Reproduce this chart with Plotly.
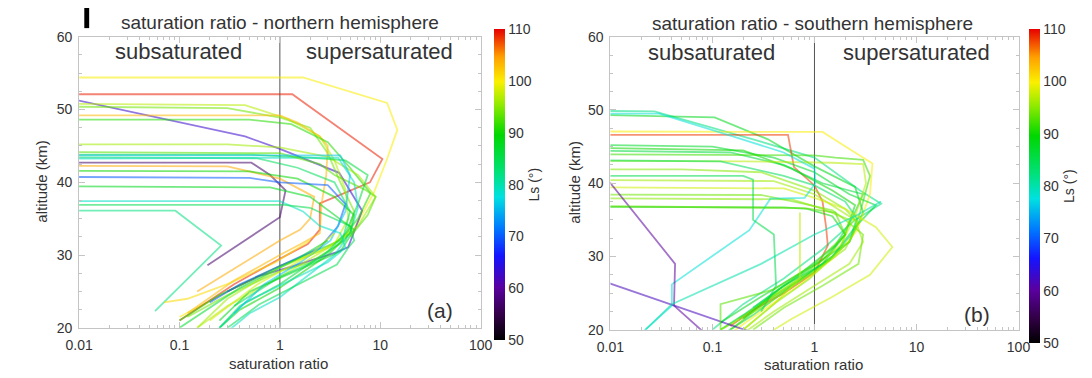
import plotly.graph_objects as go
from plotly.colors import sample_colorscale

# ---------------- data ----------------
X_TICKS = [0.01, 0.1, 1, 10, 100]
X_TICK_LABELS = ["0.01", "0.1", "1", "10", "100"]
Y_TICKS = [20, 30, 40, 50, 60]
CB_TICKS = [50, 60, 70, 80, 90, 100, 110]

# northern hemisphere profiles: Ls (deg), saturation ratio, altitude (km)
north_ls = [100, 109, 63, 97, 94, 103, 91, 96, 86, 84, 79, 57, 104, 90, 70, 88, 79, 85, 82, 93, 76, 98, 87, 101]
north_sat = [
    [0.001, 1.7, 11.7, 14.8, 11.7, 8.6, 5.3, 2.5, 1.0, 0.3, 0.1],
    [0.001, 1.33, 10.5, 7.9, 2.5, 2.5, 1.9, 1.0, 0.35, 0.1],
    [0.004, 0.45, 1.0, 3.9, 6.6, 4.8, 3.7, 1.3, 0.62, 0.3],
    [0.001, 0.45, 1.2, 2.5, 3.5, 4.5, 4.8, 3.5, 1.0, 0.3, 0.15],
    [0.001, 0.3, 1.0, 2.0, 3.0, 4.0, 5.5, 4.5, 2.0, 1.0, 0.3, 0.12],
    [0.001, 1.0, 1.5, 2.5, 3.0, 2.9, 2.6, 2.5, 1.6, 1.0, 0.35, 0.12],
    [0.001, 0.5, 1.3, 3.0, 5.0, 8.0, 6.0, 4.0, 1.0, 0.25, 0.1],
    [0.001, 0.3, 1.0, 3.0, 6.0, 9.0, 6.0, 3.0, 1.0, 0.3, 0.15],
    [0.001, 0.5, 2.0, 4.5, 7.5, 6.0, 4.5, 3.0, 1.0, 0.4, 0.25],
    [0.001, 0.6, 1.5, 3.5, 5.0, 4.2, 2.5, 1.0, 0.35],
    [0.001, 3.8, 5.5, 6.0, 5.0, 3.5, 1.0, 0.5, 0.3],
    [0.001, 0.52, 0.8, 1.14, 1.0, 0.19],
    [0.001, 0.3, 1.0, 2.2, 2.0, 1.6, 1.0, 0.3, 0.15],
    [0.001, 0.5, 1.5, 3.5, 5.5, 5.0, 3.0, 1.0, 0.4, 0.25],
    [0.001, 0.5, 1.0, 3.0, 4.5, 3.8, 2.5, 1.0, 0.4, 0.2],
    [0.001, 0.8, 2.0, 4.0, 5.5, 4.0, 1.3, 0.5, 0.25],
    [0.001, 1.0, 1.7, 2.5, 4.0, 4.5, 3.0, 1.5, 0.45, 0.25],
    [0.001, 1.1, 2.0, 3.5, 5.0, 5.5, 4.8, 3.7, 0.62, 0.3],
    [0.001, 0.091, 0.26, 0.057],
    [0.001, 1.0, 2.5, 3.5, 7.0, 9.0, 7.5, 5.0],
    [0.001, 4.0, 5.0, 4.5, 3.2, 1.6, 0.7, 0.35],
    [3.5, 2.0, 0.6, 0.2],
    [3.0, 1.5, 0.4, 0.1],
    [2.0, 0.9, 0.3, 0.12, 0.07],
]
north_alt = [
    [54.4, 54.4, 50.9, 47.2, 43.2, 38.5, 33.2, 30.5, 28.5, 25.0, 21.5],
    [52.1, 52.1, 43.2, 40.0, 37.1, 33.5, 31.5, 29.5, 26.0, 21.0],
    [52.4, 46.3, 44.6, 41.3, 36.1, 31.1, 30.4, 28.4, 27.1, 25.0],
    [50.9, 50.6, 48.7, 46.3, 43.0, 39.0, 35.0, 31.5, 27.0, 23.0, 20.0],
    [50.5, 50.2, 48.9, 47.5, 44.0, 40.0, 36.0, 32.0, 29.0, 27.8, 24.5, 21.5],
    [49.2, 49.2, 48.2, 46.3, 45.0, 41.0, 37.0, 33.0, 31.5, 30.0, 26.5, 22.0],
    [48.6, 48.6, 48.0, 45.5, 42.0, 38.5, 35.0, 32.0, 28.5, 24.5, 21.0],
    [45.2, 45.2, 44.8, 43.5, 41.0, 38.0, 34.0, 31.0, 28.3, 24.0, 20.0],
    [43.8, 43.8, 43.4, 43.0, 41.0, 37.0, 33.0, 30.5, 26.0, 23.0, 20.0],
    [43.5, 43.3, 42.0, 40.0, 36.0, 32.0, 29.5, 27.0, 23.0],
    [43.2, 43.4, 40.0, 36.5, 33.0, 30.0, 24.2, 22.0, 19.5],
    [42.7, 42.7, 41.0, 38.9, 35.2, 28.6],
    [42.3, 42.2, 40.5, 38.0, 35.0, 33.5, 32.0, 27.5, 25.0],
    [41.6, 41.5, 40.5, 38.0, 35.5, 33.0, 30.0, 25.5, 22.5, 20.0],
    [40.8, 40.6, 40.0, 39.6, 37.0, 34.0, 31.0, 28.5, 26.0, 23.5],
    [39.5, 39.3, 38.0, 35.0, 33.5, 30.5, 27.5, 25.0, 21.0],
    [37.4, 37.4, 36.0, 34.0, 33.0, 31.0, 29.0, 27.0, 23.5, 20.0],
    [36.9, 36.9, 36.5, 35.0, 34.0, 32.0, 31.0, 28.7, 23.2, 20.0],
    [36.1, 36.1, 31.3, 22.3],
    [44.2, 44.0, 42.5, 41.0, 39.0, 38.0, 35.5, 32.5],
    [43.7, 43.7, 41.0, 36.0, 32.0, 29.0, 26.0, 22.0],
    [33.0, 30.0, 26.0, 21.0],
    [32.0, 29.5, 25.5, 20.0],
    [32.0, 29.0, 26.0, 24.0, 23.5],
]

# southern hemisphere profiles
south_ls = [82, 88, 108, 100, 87, 90, 86, 92, 97, 84, 95, 96, 98, 94, 95, 90, 78, 60, 62, 85, 93, 80, 97]
south_sat = [
    [0.001, 0.027, 0.25, 1.0, 2.8, 4.5, 2.5, 1.2, 0.5, 0.2, 0.1],
    [0.001, 0.105, 0.35, 1.0, 2.5, 3.0, 2.2, 0.9, 0.3, 0.12],
    [0.001, 0.55, 0.63, 1.0, 1.2, 1.3, 1.35, 1.0, 0.5, 0.25, 0.15],
    [0.001, 1.2, 2.3, 3.7, 3.5, 2.6, 1.6, 0.7, 0.3, 0.15],
    [0.001, 0.1, 0.4, 1.0, 2.2, 4.0, 2.5, 1.5, 0.6, 0.25, 0.13],
    [0.001, 0.2, 0.6, 1.5, 2.5, 2.0, 1.2, 0.5, 0.18],
    [0.001, 0.15, 0.5, 1.2, 3.0, 2.3, 1.6, 0.7, 0.25],
    [0.001, 0.3, 1.0, 1.6, 3.0, 3.5, 2.8, 2.2, 1.0, 0.35, 0.15],
    [0.001, 0.2, 1.5, 3.0, 3.2, 2.5, 1.8, 0.8, 0.3, 0.12],
    [0.001, 0.12, 0.5, 1.0, 2.0, 2.6, 2.3, 1.4, 0.5, 0.2, 0.12],
    [0.001, 0.05, 0.3, 1.0, 2.0, 2.7, 2.0, 0.9, 0.3, 0.12],
    [0.001, 0.4, 1.0, 1.6, 2.5, 3.0, 2.2, 1.0, 0.4, 0.2],
    [0.001, 0.5, 1.0, 2.0, 4.0, 5.8, 3.5, 1.5, 0.6, 0.35],
    [0.001, 0.3, 0.8, 1.5, 2.0, 3.0, 2.7, 1.2, 0.5, 0.25],
    [0.001, 0.6, 1.2, 2.2, 1.8, 0.9, 0.4, 0.2],
    [0.001, 0.5, 0.85, 1.5, 2.0, 1.2, 0.45, 0.2],
    [0.001, 0.03, 0.15, 0.5, 1.0, 1.02, 0.8, 0.37, 0.23, 0.04, 0.04, 0.02],
    [0.007, 0.01, 0.043, 0.042, 0.08],
    [0.006, 0.01, 0.25],
    [0.001, 0.2, 0.25, 0.25, 0.4, 0.42, 0.3],
    [0.001, 0.8, 1.6, 2.0, 1.0, 0.4, 0.12, 0.12],
    [0.022, 0.04, 0.3, 1.0, 2.5, 4.5],
    [0.72, 0.72, 0.4, 0.2],
]
south_alt = [
    [50.0, 49.8, 46.0, 43.5, 39.0, 37.2, 35.0, 31.0, 27.0, 23.5, 20.0],
    [49.6, 49.0, 46.0, 42.3, 39.5, 36.0, 32.0, 28.5, 24.5, 21.0],
    [46.6, 46.6, 42.2, 39.7, 37.5, 34.0, 31.5, 27.8, 25.0, 22.7, 20.5],
    [47.1, 47.0, 44.5, 42.7, 38.5, 33.5, 30.0, 26.0, 22.5, 19.5],
    [45.4, 45.0, 43.5, 41.5, 38.5, 37.0, 34.0, 30.0, 26.0, 22.0, 19.5],
    [45.0, 44.5, 42.0, 39.0, 37.0, 33.0, 29.0, 25.5, 21.5],
    [44.6, 44.2, 42.5, 40.0, 38.5, 35.0, 31.5, 27.5, 23.0],
    [44.0, 43.8, 43.8, 43.5, 43.2, 41.0, 36.0, 32.0, 28.0, 24.0, 20.0],
    [43.1, 43.0, 42.8, 42.6, 40.0, 35.5, 31.5, 27.5, 23.5, 20.0],
    [43.2, 43.0, 41.0, 39.7, 37.5, 35.2, 33.0, 29.5, 26.0, 22.0, 20.0],
    [41.9, 41.9, 41.5, 39.0, 36.5, 34.5, 31.0, 27.5, 23.0, 20.0],
    [40.5, 40.3, 38.5, 36.7, 35.0, 32.0, 29.0, 26.0, 22.5, 19.5],
    [39.5, 39.3, 38.0, 36.5, 34.0, 31.3, 27.5, 24.5, 21.5, 19.5],
    [38.5, 38.4, 37.2, 36.3, 35.0, 33.0, 29.0, 26.0, 23.0, 20.0],
    [38.0, 37.8, 36.5, 35.0, 31.0, 27.0, 23.5, 20.0],
    [36.8, 36.7, 36.5, 35.5, 33.0, 29.5, 25.5, 21.5],
    [49.5, 49.5, 46.5, 44.2, 42.0, 40.0, 38.0, 37.9, 33.6, 26.2, 23.3, 19.5],
    [41.5, 40.0, 29.0, 23.3, 19.8],
    [27.35, 26.3, 19.6],
    [41.0, 41.0, 40.5, 35.0, 33.0, 26.0, 22.5],
    [37.0, 36.6, 36.0, 33.0, 29.0, 25.5, 23.5, 20.0],
    [20.0, 23.5, 29.0, 33.0, 35.5, 37.5],
    [36.0, 27.0, 23.5, 20.0],
]

LS_MIN, LS_MAX = 50, 110

# ---------------- styling ----------------
W, H = 1092, 378
FONT = "Liberation Sans, Arial, Helvetica, sans-serif"
TXT = "#333333"
FRAME = "#c4c4c4"

CSCALE = [
    [0.00, "rgb(0,0,0)"],
    [0.08, "rgb(50,0,70)"],
    [0.17, "rgb(90,0,160)"],
    [0.27, "rgb(20,20,255)"],
    [0.36, "rgb(0,120,255)"],
    [0.46, "rgb(0,225,225)"],
    [0.54, "rgb(0,225,120)"],
    [0.66, "rgb(0,215,0)"],
    [0.76, "rgb(150,235,0)"],
    [0.83, "rgb(250,240,0)"],
    [0.91, "rgb(255,160,0)"],
    [1.00, "rgb(230,0,0)"],
]

PANELS = [
    dict(x0=66.7, x1=478.0, yt=30.0, yb=334.0, cbx=492.0, cbt=22.0, cbb=347.0,
         xa="x", ya="y", ls=north_ls, sat=north_sat, alt=north_alt),
    dict(x0=611.0, x1=1029.0, yt=30.0, yb=336.0, cbx=1040.0, cbt=22.0, cbb=350.0,
         xa="x2", ya="y2", ls=south_ls, sat=south_sat, alt=south_alt),
]

fig = go.Figure()

minor_x = [m * 10 ** e for e in range(-2, 2) for m in range(2, 10)]

for p in PANELS:
    fig.add_trace(go.Scatter(x=[1, 1], y=[20, 60], mode="lines",
                             line=dict(color="#555555", width=1),
                             xaxis=p["xa"], yaxis=p["ya"], showlegend=False, hoverinfo="skip"))
    cols = sample_colorscale(CSCALE, [(v - LS_MIN) / (LS_MAX - LS_MIN) for v in p["ls"]])
    for s, a, c in zip(p["sat"], p["alt"], cols):
        fig.add_trace(go.Scatter(x=s, y=a, mode="lines",
                                 line=dict(color=c, width=1.8), opacity=0.55,
                                 xaxis=p["xa"], yaxis=p["ya"], showlegend=False, hoverinfo="skip"))
    fig.add_trace(go.Scatter(
        x=[1e-5], y=[0], mode="markers", xaxis=p["xa"], yaxis=p["ya"],
        showlegend=False, hoverinfo="skip",
        marker=dict(size=1, color=[80], cmin=LS_MIN, cmax=LS_MAX, colorscale=CSCALE,
                    showscale=True,
                    colorbar=dict(
                        x=p["cbx"] / W, xanchor="left", xpad=0, ypad=0,
                        y=1 - (p["cbt"] + p["cbb"]) / 2 / H, yanchor="middle",
                        len=(p["cbb"] - p["cbt"]) / H, lenmode="fraction",
                        thickness=11, thicknessmode="pixels", outlinewidth=0,
                        tickvals=CB_TICKS, ticks="",
                        tickfont=dict(family=FONT, size=14, color=TXT),
                        title=dict(text="Ls (°)", side="right",
                                   font=dict(family=FONT, size=14, color=TXT)),
                    ))))

layout_axes = {}
for i, p in enumerate(PANELS):
    sx = "" if i == 0 else "2"
    layout_axes["xaxis" + sx] = dict(
        domain=[p["x0"] / W, p["x1"] / W], anchor="y" + sx, type="log", range=[-2, 2],
        tickvals=X_TICKS, ticktext=X_TICK_LABELS, ticks="inside", ticklen=6,
        tickcolor=FRAME, showline=True, linecolor=FRAME, linewidth=1, mirror="ticks",
        showgrid=False, zeroline=False, ticklabelstandoff=4,
        tickfont=dict(family=FONT, size=14, color=TXT),
        minor=dict(tickvals=minor_x, ticks="inside", ticklen=3, tickcolor=FRAME, showgrid=False),
    )
    layout_axes["yaxis" + sx] = dict(
        domain=[1 - p["yb"] / H, 1 - p["yt"] / H], anchor="x" + sx, range=[20, 60],
        tickvals=Y_TICKS, ticks="inside", ticklen=6, tickcolor=FRAME,
        showline=True, linecolor=FRAME, linewidth=1, mirror="ticks",
        showgrid=False, zeroline=False, ticklabelstandoff=3,
        tickfont=dict(family=FONT, size=14, color=TXT),
        minor=dict(dtick=2.5, ticks="inside", ticklen=3, tickcolor=FRAME, showgrid=False),
    )

def ann(text, x, y, size, angle=0):
    return dict(text=text, x=x / W, y=1 - y / H, xref="paper", yref="paper",
                xanchor="center", yanchor="middle", showarrow=False, textangle=angle,
                font=dict(family=FONT, size=size, color=TXT))

annotations = [
    ann("saturation ratio - northern hemisphere", 272, 15, 19),
    ann("saturation ratio - southern hemisphere", 818, 16, 19),
    ann("subsaturated", 168, 45, 22),
    ann("supersaturated", 374, 45, 22),
    ann("subsaturated", 715, 46, 22),
    ann("supersaturated", 924, 46, 22),
    ann("(a)", 436, 316, 21),
    ann("(b)", 986, 320, 21),
    ann("saturation ratio", 271, 371, 15),
    ann("saturation ratio", 819, 372, 15),
    ann("altitude (km)", 28, 181, 15, -90),
    ann("altitude (km)", 574, 182, 15, -90),
]

fig.update_layout(
    width=W, height=H, margin=dict(l=0, r=0, t=0, b=0),
    paper_bgcolor="white", plot_bgcolor="white",
    showlegend=False, annotations=annotations,
    shapes=[dict(type="rect", xref="paper", yref="paper",
                 x0=72 / W, x1=77 / W, y0=1 - 21 / H, y1=1,
                 fillcolor="black", line=dict(width=0))],
    **layout_axes,
)

fig.write_html("out.html")
